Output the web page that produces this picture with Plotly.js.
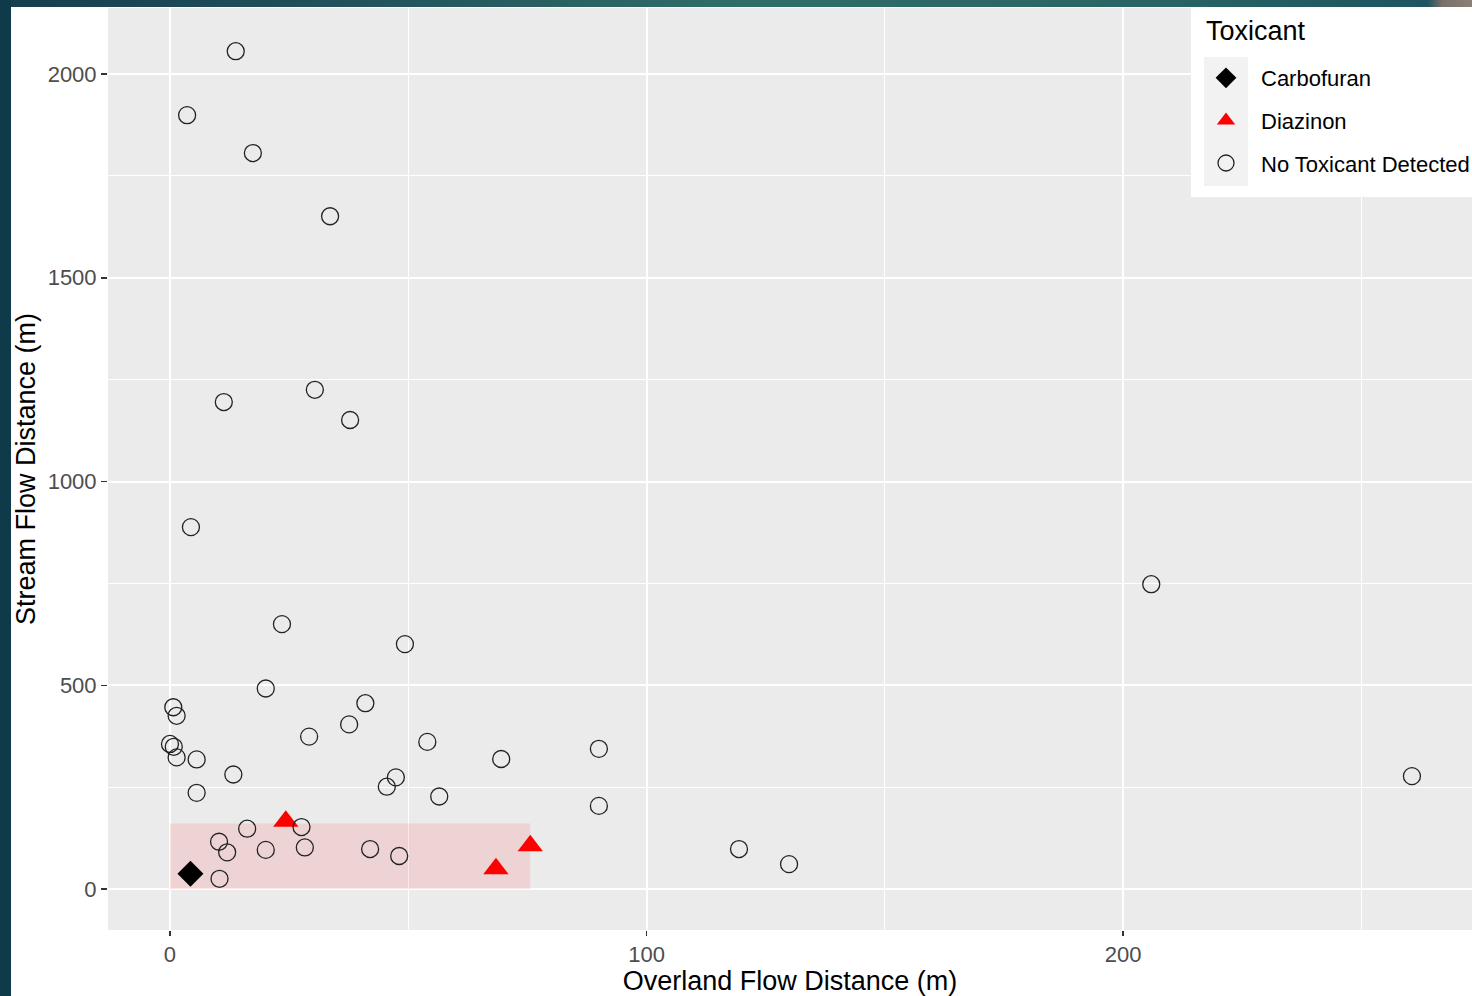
<!DOCTYPE html>
<html>
<head>
<meta charset="utf-8">
<script src="https://cdn.plot.ly/plotly-3.0.1.min.js"></script>
<style>
  html, body { margin: 0; padding: 0; width: 1472px; height: 996px; overflow: hidden; background: #ffffff; }
  #topstrip { position: absolute; left: 0; top: 0; width: 1472px; height: 7px;
    background: linear-gradient(to right, #153E4D 0%, #22535D 25%, #2F6E68 50%, #2A6666 75%, #1E5560 97%, #7A7068 98%, #8A8078 100%); }
  #leftstrip { position: absolute; left: 0; top: 0; width: 11px; height: 996px; background: #0F3A4A; }
  #chart { position: absolute; left: 11px; top: 7px; width: 1461px; height: 989px; }
</style>
</head>
<body>
<div id="topstrip"></div>
<div id="leftstrip"></div>
<div id="chart"></div>
<script>
// ---- Data ----
const noneX = [13.8, 3.6, 17.4, 33.6, 11.3, 30.4, 37.8, 4.4, 205.9, 23.5, 49.3, 20.1, 0.7, 1.4, 41.0, 37.6, 29.2, 54.0, 90.0, 0.0, 0.8, 1.4, 5.6, 13.3, 5.6, 69.5, 47.4, 45.5, 56.5, 90.0, 27.6, 16.2, 10.3, 12.0, 20.1, 28.3, 42.0, 48.1, 10.4, 119.4, 129.9, 260.6];
const noneY = [2056, 1899, 1806, 1651, 1195, 1225, 1151, 888, 748, 650, 601, 492, 446, 425, 456, 404, 374, 361, 344, 356, 349, 323, 318, 281, 236, 319, 274, 251, 227, 204, 152, 148, 116, 90, 96, 102, 98, 81, 25, 98, 61, 277];
const diazinonX = [24.3, 68.4, 75.6];
const diazinonY = [166, 50, 106];
const carbofuranX = [4.3];
const carbofuranY = [37.5];
const highlightX = [0, 75.6];
const highlightY = [0, 161];
const xTickVals = [0, 100, 200];
const yTickVals = [0, 500, 1000, 1500, 2000];
const legendTitle = "Toxicant";
const legendNames = ["Carbofuran", "Diazinon", "No Toxicant Detected"];

const FONT = "Liberation Sans, Arial, Helvetica, sans-serif";

const traces = [
  {
    x: carbofuranX, y: carbofuranY, type: "scatter", mode: "markers",
    name: legendNames[0], legendgroup: "a",
    marker: { symbol: "diamond", size: 20, color: "#000000", line: { width: 0 } }
  },
  {
    x: diazinonX, y: diazinonY, type: "scatter", mode: "markers",
    name: legendNames[1], legendgroup: "b",
    marker: { symbol: "triangle-up", size: 22, color: "#FF0000", line: { width: 0 } }
  },
  {
    x: noneX, y: noneY, type: "scatter", mode: "markers",
    name: legendNames[2], legendgroup: "c",
    marker: { symbol: "circle-open", size: 17, color: "#222222", line: { width: 1.3, color: "#222222" } }
  }
];

// pixel helpers for paper coords (plot area: l=97, t=1, w=1364, h=922)
const L = 97, T = 1, W = 1364, H = 922;
const px = v => (v - L) / W;
const py = v => (T + H - v) / H;

const layout = {
  width: 1461, height: 989,
  margin: { l: L, r: 0, t: T, b: 989 - T - H, autoexpand: false },
  paper_bgcolor: "#FFFFFF",
  plot_bgcolor: "#EBEBEB",
  font: { family: FONT, color: "#000000" },
  showlegend: true,
  xaxis: {
    range: [-13, 273.2],
    tickmode: "array", tickvals: xTickVals,
    ticks: "outside", ticklen: 5, tickwidth: 1.5, tickcolor: "#333333",
    tickfont: { family: FONT, size: 22, color: "#4D4D4D" },
    showgrid: true, gridcolor: "#FFFFFF", gridwidth: 2,
    minor: { dtick: 50, tick0: 0, showgrid: true, gridcolor: "#FFFFFF", gridwidth: 1, ticks: "" },
    zeroline: false, showline: false,
    title: { text: "Overland Flow Distance (m)", font: { family: FONT, size: 27, color: "#000000" }, standoff: 10 }
  },
  yaxis: {
    range: [-100.6, 2162],
    tickmode: "array", tickvals: yTickVals,
    ticks: "outside", ticklen: 6, tickwidth: 1.5, tickcolor: "#333333",
    tickfont: { family: FONT, size: 22, color: "#4D4D4D" },
    showgrid: true, gridcolor: "#FFFFFF", gridwidth: 2,
    minor: { dtick: 250, tick0: 0, showgrid: true, gridcolor: "#FFFFFF", gridwidth: 1, ticks: "" },
    zeroline: false, showline: false,
    title: { text: "Stream Flow Distance (m)", font: { family: FONT, size: 27, color: "#000000" }, standoff: 8 }
  },
  legend: {
    x: px(1180), xanchor: "left", y: py(50), yanchor: "top",
    bgcolor: "rgba(0,0,0,0)", borderwidth: 0,
    font: { family: FONT, size: 22, color: "#000000" },
    traceorder: "grouped", tracegroupgap: 11,
    itemwidth: 60, itemsizing: "trace"
  },
  annotations: [
    {
      text: legendTitle, xref: "paper", yref: "paper",
      x: px(1194), y: py(40), xanchor: "left", yanchor: "bottom",
      showarrow: false, font: { family: FONT, size: 27, color: "#000000" },
      borderpad: 0
    }
  ],
  shapes: [
    {
      type: "rect", xref: "x", yref: "y",
      x0: highlightX[0], x1: highlightX[1], y0: highlightY[0], y1: highlightY[1],
      fillcolor: "rgba(255,0,0,0.1)", line: { width: 0 }, layer: "between"
    },
    {
      type: "rect", xref: "paper", yref: "paper",
      x0: px(1180), x1: px(1480), y0: py(190), y1: py(-5),
      fillcolor: "#FFFFFF", line: { width: 0 }, layer: "above"
    },
    {
      type: "rect", xref: "paper", yref: "paper",
      x0: px(1193), x1: px(1237), y0: py(179), y1: py(50),
      fillcolor: "#F2F2F2", line: { width: 0 }, layer: "above"
    }
  ]
};

Plotly.newPlot("chart", traces, layout, { staticPlot: true, displayModeBar: false });
</script>
</body>
</html>
